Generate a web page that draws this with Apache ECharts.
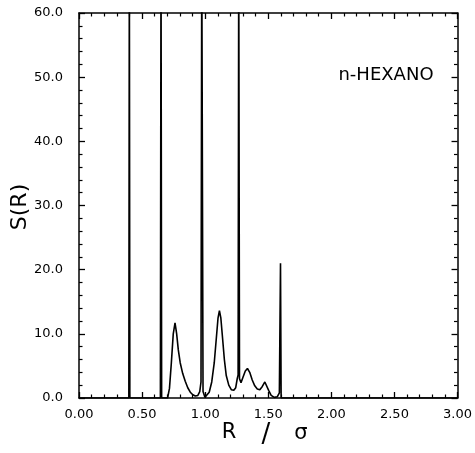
<!DOCTYPE html>
<html>
<head>
<meta charset="utf-8">
<script src="https://cdn.jsdelivr.net/npm/echarts@6/dist/echarts.min.js"></script>
<style>html,body{margin:0;padding:0;background:#fff}#c{width:475px;height:453px}</style>
</head>
<body>
<div id="c"></div>
<script>
// R / sigma values
const rValues = [0.00,0.395,0.399,0.403,0.645,0.650,0.655,0.702,0.717,0.732,0.747,0.761,0.774,0.787,0.802,0.822,0.842,0.862,0.882,0.902,0.922,0.942,0.957,0.967,0.973,0.978,0.983,0.998,1.013,1.032,1.052,1.072,1.087,1.102,1.113,1.124,1.137,1.152,1.167,1.187,1.207,1.227,1.242,1.254,1.261,1.266,1.272,1.284,1.299,1.318,1.335,1.353,1.373,1.393,1.413,1.433,1.453,1.473,1.488,1.503,1.523,1.548,1.572,1.588,1.597,1.602,1.700,3.00];
// S(R) values (spikes exceed the 60 top of the frame)
const sValues = [0,0,70,0,0,70,0,0,1.5,5.5,10,11.7,10,7.5,5.5,3.8,2.6,1.6,0.9,0.5,0.3,0.4,1.0,2.5,70,70,1.0,0.1,0.3,0.9,2.5,5.5,9,12.5,13.6,12.5,9.5,6,3.5,2,1.3,1.2,1.6,3,3.6,70,3.0,2.4,3.2,4.2,4.6,4.0,2.8,1.9,1.4,1.3,1.8,2.5,2.2,1.2,0.4,0.1,0.2,0.8,21,0,0,0];
const xTicks = [0.00,0.50,1.00,1.50,2.00,2.50,3.00];
const yTicks = [0,10,20,30,40,50,60];

const seriesData = rValues.map((r,i)=>[r,sValues[i]]);
const FONT = 'DejaVu Sans';
const axisCommon = {
  type:'value',
  axisLine:{show:true,onZero:false,lineStyle:{color:'#000',width:1.5}},
  axisTick:{show:true,inside:true,length:6,lineStyle:{color:'#000',width:1.3}},
  minorTick:{show:true,splitNumber:5,length:3.5,lineStyle:{color:'#000',width:1.2}},
  splitLine:{show:false},
  minorSplitLine:{show:false}
};
const xBase = Object.assign({}, axisCommon, {min:xTicks[0],max:xTicks[xTicks.length-1],interval:0.5});
const yBase = Object.assign({}, axisCommon, {min:yTicks[0],max:yTicks[yTicks.length-1],interval:10});

const chart = echarts.init(document.getElementById('c'),null,{renderer:'canvas'});
chart.setOption({
  animation:false,
  backgroundColor:'#fff',
  grid:{left:79,right:12,top:13,bottom:55,containLabel:false},
  xAxis:[
    Object.assign({},xBase,{position:'bottom',axisLabel:{show:true,margin:10,color:'#000',fontSize:13,fontFamily:FONT,formatter:v=>v.toFixed(2)}}),
    Object.assign({},xBase,{position:'top',axisLabel:{show:false}})
  ],
  yAxis:[
    Object.assign({},yBase,{position:'left',axisLabel:{show:true,margin:16,color:'#000',fontSize:13,fontFamily:FONT,formatter:v=>v.toFixed(1)}}),
    Object.assign({},yBase,{position:'right',axisLabel:{show:false}})
  ],
  series:[{
    type:'line',
    xAxisIndex:0,yAxisIndex:0,
    data:seriesData,
    showSymbol:false,
    symbol:'none',
    clip:true,
    lineStyle:{color:'#000',width:1.6},
    z:3
  }],
  graphic:[
    {type:'text',x:20,y:207,rotation:Math.PI/2,style:{text:'S(R)',font:'22px "DejaVu Sans"',fill:'#000',textAlign:'center',textVerticalAlign:'middle'}},
    {type:'text',x:229,y:433,style:{text:'R',font:'21px "DejaVu Sans"',fill:'#000',textAlign:'center',textVerticalAlign:'middle'}},
    {type:'text',x:266,y:435,style:{text:'/',font:'26px "DejaVu Sans"',fill:'#000',textAlign:'center',textVerticalAlign:'middle'}},
    {type:'text',x:301,y:434,style:{text:'σ',font:'21px "DejaVu Sans"',fill:'#000',textAlign:'center',textVerticalAlign:'middle'}},
    {type:'text',x:386,y:75,style:{text:'n-HEXANO',font:'18px "DejaVu Sans"',fill:'#000',textAlign:'center',textVerticalAlign:'middle'}}
  ]
});
</script>
</body>
</html>
